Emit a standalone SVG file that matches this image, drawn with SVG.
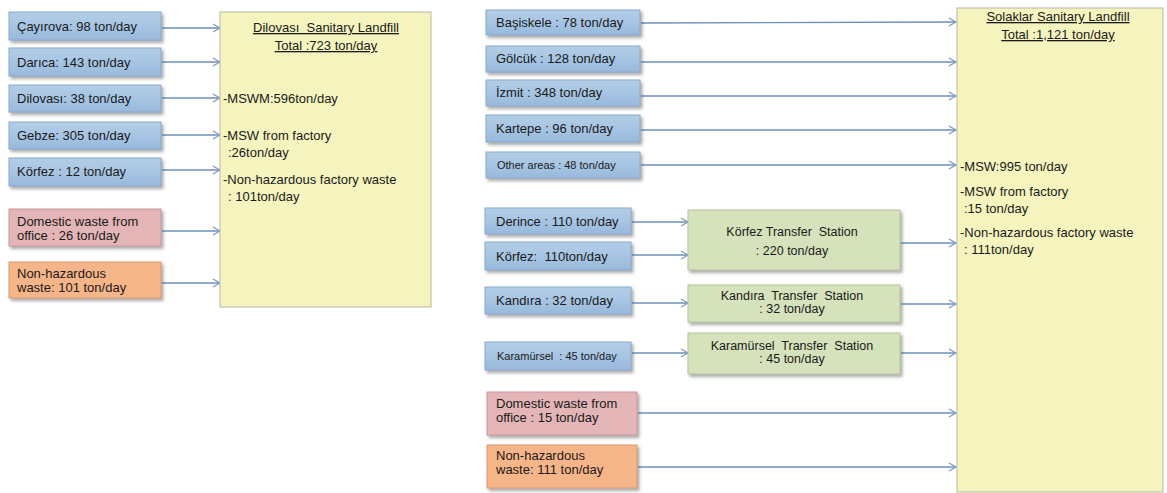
<svg xmlns="http://www.w3.org/2000/svg" width="1167" height="493" viewBox="0 0 1167 493">
<defs>
<filter id="sh" x="-10%" y="-20%" width="125%" height="160%">
<feDropShadow dx="2" dy="2.5" stdDeviation="1.5" flood-color="#555" flood-opacity="0.5"/>
</filter>
<linearGradient id="gBlue" x1="0" y1="0" x2="0" y2="1">
<stop offset="0" stop-color="#b3cde6"/><stop offset="0.5" stop-color="#a7c5e3"/><stop offset="1" stop-color="#98b9dc"/>
</linearGradient>
<marker id="ah" markerWidth="10" markerHeight="10" refX="8" refY="5" orient="auto" markerUnits="userSpaceOnUse">
<path d="M1,1 L8,5 L1,9" fill="none" stroke="#7f98bd" stroke-width="1.2"/>
</marker>
<style>
.blue{fill:url(#gBlue);stroke:#8aa9cc;stroke-width:1;filter:url(#sh)}
.pink{fill:#e3b5b6;stroke:#c99a9c;stroke-width:1;filter:url(#sh)}
.orange{fill:#f6b489;stroke:#d99a70;stroke-width:1;filter:url(#sh)}
.green{fill:#d5e2bb;stroke:#b3c496;stroke-width:1;filter:url(#sh)}
.yellow{fill:#f5f4bf;stroke:#b8b8a0;stroke-width:1}
text{font-family:"Liberation Sans",Arial,sans-serif;font-size:13px;fill:#1a1a1a;white-space:pre}
.sm{font-size:11px}
.ts{font-size:12.5px}
.ctr{text-anchor:middle}
.ul{text-decoration:underline}
.cn{stroke:#6a8fc0;stroke-width:1.4;fill:none;marker-end:url(#ah)}
</style>
</defs>

<g id="connectors">
<line class="cn" x1="162" y1="28" x2="220" y2="28"/>
<line class="cn" x1="162" y1="62" x2="220" y2="62"/>
<line class="cn" x1="162" y1="98" x2="220" y2="98"/>
<line class="cn" x1="162" y1="135" x2="220" y2="135"/>
<line class="cn" x1="162" y1="170" x2="220" y2="170"/>
<line class="cn" x1="162" y1="231" x2="220" y2="231"/>
<line class="cn" x1="162" y1="283" x2="220" y2="283"/>

<line class="cn" x1="641" y1="23" x2="956" y2="22"/>
<line class="cn" x1="641" y1="62" x2="956" y2="62"/>
<line class="cn" x1="641" y1="96" x2="956" y2="96"/>
<line class="cn" x1="641" y1="130" x2="956" y2="130"/>
<line class="cn" x1="641" y1="165" x2="956" y2="165"/>
<line class="cn" x1="632" y1="222" x2="688" y2="222"/>
<line class="cn" x1="632" y1="255" x2="688" y2="255"/>
<line class="cn" x1="632" y1="303" x2="688" y2="303"/>
<line class="cn" x1="632" y1="353" x2="688" y2="353"/>
<line class="cn" x1="901" y1="243" x2="956" y2="243"/>
<line class="cn" x1="901" y1="304" x2="956" y2="304"/>
<line class="cn" x1="901" y1="353" x2="956" y2="353"/>
<line class="cn" x1="638" y1="413" x2="956" y2="413"/>
<line class="cn" x1="638" y1="467" x2="956" y2="467"/>
</g>

<g id="dilovasi-landfill">
<rect class="yellow" x="220" y="12" width="211" height="295"/>
<text class="ctr ul" x="326" y="32">Dilovası  Sanitary Landfill</text>
<text class="ctr ul" x="326" y="50">Total :723 ton/day</text>
<text x="223" y="103">-MSWM:596ton/day</text>
<text x="223" y="140">-MSW from factory</text>
<text x="228" y="157">:26ton/day</text>
<text x="223" y="184">-Non-hazardous factory waste</text>
<text x="228" y="201">: 101ton/day</text>
</g>

<g id="cayirova"><rect class="blue" x="9" y="12" width="152" height="28"/><text x="17" y="31">Çayırova: 98 ton/day</text></g>
<g id="darica"><rect class="blue" x="9" y="48" width="152" height="28"/><text x="17" y="67">Darıca: 143 ton/day</text></g>
<g id="dilovasi"><rect class="blue" x="9" y="85" width="152" height="27"/><text x="17" y="103">Dilovası: 38 ton/day</text></g>
<g id="gebze"><rect class="blue" x="9" y="122" width="152" height="27"/><text x="17" y="140">Gebze: 305 ton/day</text></g>
<g id="korfez-left"><rect class="blue" x="9" y="158" width="152" height="28"/><text x="17" y="176">Körfez : 12 ton/day</text></g>
<g id="domestic-left"><rect class="pink" x="9" y="209" width="152" height="37"/><text x="17" y="226">Domestic waste from</text><text x="17" y="240">office : 26 ton/day</text></g>
<g id="nonhaz-left"><rect class="orange" x="9" y="262" width="152" height="36"/><text x="17" y="278">Non-hazardous</text><text x="17" y="292">waste: 101 ton/day</text></g>

<g id="solaklar-landfill">
<rect class="yellow" x="957" y="8" width="206" height="484"/>
<text class="ctr ul" x="1058" y="21">Solaklar Sanitary Landfill</text>
<text class="ctr ul" x="1058" y="39">Total :1,121 ton/day</text>
<text x="960" y="171">-MSW:995 ton/day</text>
<text x="960" y="196">-MSW from factory</text>
<text x="964" y="213">:15 ton/day</text>
<text x="960" y="237">-Non-hazardous factory waste</text>
<text x="964" y="254">: 111ton/day</text>
</g>

<g id="basiskele"><rect class="blue" x="486" y="10" width="154" height="25"/><text x="496" y="27">Başiskele : 78 ton/day</text></g>
<g id="golcuk"><rect class="blue" x="486" y="46" width="154" height="26"/><text x="496" y="63">Gölcük : 128 ton/day</text></g>
<g id="izmit"><rect class="blue" x="486" y="80" width="154" height="26"/><text x="496" y="97">İzmit : 348 ton/day</text></g>
<g id="kartepe"><rect class="blue" x="486" y="115" width="154" height="27"/><text x="496" y="133">Kartepe : 96 ton/day</text></g>
<g id="other-areas"><rect class="blue" x="486" y="152" width="154" height="26"/><text class="sm" x="497" y="169">Other areas : 48 ton/day</text></g>
<g id="derince"><rect class="blue" x="485" y="208" width="146" height="26"/><text x="496" y="226">Derince : 110 ton/day</text></g>
<g id="korfez-right"><rect class="blue" x="485" y="242" width="146" height="28"/><text x="496" y="261">Körfez:  110ton/day</text></g>
<g id="kandira"><rect class="blue" x="485" y="287" width="146" height="27"/><text x="496" y="305">Kandıra : 32 ton/day</text></g>
<g id="karamursel"><rect class="blue" x="485" y="342" width="146" height="28"/><text class="sm" x="497" y="360">Karamürsel  : 45 ton/day</text></g>

<g id="korfez-ts"><rect class="green" x="688" y="210" width="212" height="60"/><text class="ctr ts" x="792" y="236">Körfez Transfer  Station</text><text class="ctr ts" x="792" y="255">: 220 ton/day</text></g>
<g id="kandira-ts"><rect class="green" x="688" y="285" width="212" height="37"/><text class="ctr ts" x="792" y="300">Kandıra  Transfer  Station</text><text class="ctr ts" x="792" y="313">: 32 ton/day</text></g>
<g id="karamursel-ts"><rect class="green" x="688" y="333" width="212" height="41"/><text class="ctr ts" x="792" y="350">Karamürsel  Transfer  Station</text><text class="ctr ts" x="792" y="363">: 45 ton/day</text></g>

<g id="domestic-right"><rect class="pink" x="487" y="392" width="150" height="43"/><text x="496" y="408">Domestic waste from</text><text x="496" y="422">office : 15 ton/day</text></g>
<g id="nonhaz-right"><rect class="orange" x="487" y="445" width="150" height="43"/><text x="496" y="460">Non-hazardous</text><text x="496" y="474">waste: 111 ton/day</text></g>
</svg>
